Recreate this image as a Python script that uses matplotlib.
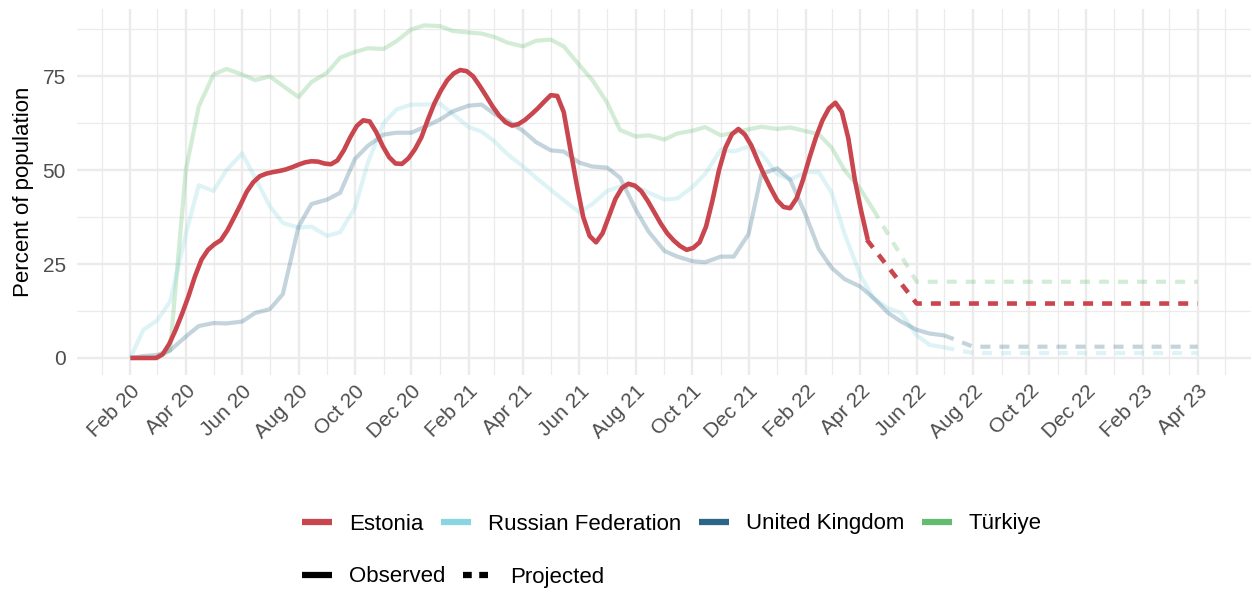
import numpy as np
import pandas as pd
import matplotlib
matplotlib.use('Agg')
import matplotlib.pyplot as plt
import matplotlib.dates as mdates
from matplotlib.lines import Line2D

plt.rcParams['font.family'] = ['Liberation Sans', 'DejaVu Sans']

# Estonia: weekly values from 2020-02-01
estonia = [0, 0, 0, 0, 0, 1.0, 3.7, 7.5, 11.8, 16.5,
           21.8, 26.2, 28.8, 30.3, 31.4, 34, 37.3, 40.7, 44.3, 46.8,
           48.4, 49.1, 49.5, 49.8, 50.2, 50.8, 51.5, 52.1, 52.4, 52.3,
           51.8, 51.6, 52.6, 55.3, 58.8, 61.8, 63.3, 63, 60.2, 56.5,
           53.5, 51.8, 51.7, 53.2, 55.6, 58.8, 63.5, 67.8, 71.2, 74,
           75.8, 76.7, 76.4, 75, 72.5, 69.8, 67, 64.6, 62.8, 61.9,
           62.3, 63.4, 64.9, 66.5, 68.3, 70, 69.8, 65.5, 55.8, 46.3,
           37.6, 32.5, 30.8, 33.2, 37.8, 42.4, 45.3, 46.4, 45.9, 44.4,
           41.8, 38.8, 35.8, 33.2, 31.3, 29.8, 28.8, 29.3, 30.8, 35,
           42, 50, 56, 59.6, 61, 59.5, 56.6, 52.5, 48.7, 45.2,
           42, 40.2, 39.9, 42.5, 47.5, 53.4, 58.8, 63.3, 66.5, 68,
           65.5, 58.5, 47.5, 39, 31.5]
estonia_dates = pd.date_range('2020-02-01', periods=len(estonia), freq='7D')

# other countries: semi-monthly values (1st and 15th)
obs_dates = pd.date_range('2020-02-01', '2022-07-01', freq='SMS')
turkiye = [0, 0, 0, 2, 50, 67, 75.5, 77, 75.5, 74, 75, 72.5, 69.5, 73.5,
           76, 80, 81.5, 82.5, 82.3, 84.4, 87.5, 88.6,
           88.4, 87.1, 86.7, 86.4, 85.5, 84, 83, 84.5, 84.8, 83, 78, 74, 68, 60.7,
           59, 59.3, 58.2, 59.8, 60.5, 61.5, 59.3, 60, 60.9, 61.6,
           61, 61.4, 60.4, 59.6, 56, 50, 45, 39.5]
russia = [0, 7.5, 10, 15, 33, 46, 44.5, 50, 54.5, 48, 40.4, 36, 34.7, 35,
          32.5, 33.5, 40, 52, 62.5, 66.2, 67.5, 67.5,
          67.7, 65, 61.5, 60.3, 57.7, 54.3, 51, 48, 44.8, 42, 38.8, 41, 44.5, 45.7,
          45.7, 44, 42.2, 42.5, 45.5, 49, 55.5, 55, 56.3, 54.5,
          49, 47.5, 49.5, 49.5, 44, 33, 22, 16, 13.2, 12, 6, 3.5, 2.8]
uk = [0, 0.5, 0.8, 2, 5.7, 8.5, 9.3, 9.2, 9.7, 12, 13, 17, 35, 41,
      42.2, 44, 53, 56.5, 59.5, 60, 60, 61.5,
      63.5, 65.7, 67.2, 67.5, 65, 63.2, 60.5, 57.5, 55.3, 55, 52, 51, 50.7, 48,
      39.5, 33.6, 28.5, 27, 25.8, 25.5, 27, 27, 33, 49,
      50.5, 47.5, 38, 29, 24, 21, 19, 16, 12, 9.7, 7.5, 6.5, 6.0]

# projections (start at last observed point)
estonia_proj_dates = pd.to_datetime(['2022-04-08', '2022-06-01', '2023-04-01'])
turkiye_proj_dates = pd.to_datetime(['2022-04-15', '2022-06-01', '2023-04-01'])
other_proj_dates = pd.to_datetime(['2022-07-01', '2022-08-01', '2023-04-01'])
estonia_proj = [31.5, 14.5, 14.5]
turkiye_proj = [39.5, 20.3, 20.3]
russia_proj = [2.8, 1.3, 1.3]
uk_proj = [6.0, 3.0, 3.0]

countries = ['Estonia', 'Russian Federation', 'United Kingdom', 'Türkiye']
colors = ['#C9464F', '#87D6E0', '#2B6687', '#63BC6F']

series = {
    'Türkiye': (obs_dates[:len(turkiye)], turkiye, turkiye_proj_dates, turkiye_proj),
    'Russian Federation': (obs_dates[:len(russia)], russia, other_proj_dates, russia_proj),
    'United Kingdom': (obs_dates[:len(uk)], uk, other_proj_dates, uk_proj),
    'Estonia': (estonia_dates, estonia, estonia_proj_dates, estonia_proj),
}

fig = plt.figure(figsize=(12.52, 5.93), dpi=100)
ax = fig.add_axes([0.0615, 0.3683, 0.9377, 0.617])

for name in ['Türkiye', 'Russian Federation', 'United Kingdom', 'Estonia']:
    odates, obs, pdates, proj = series[name]
    col = colors[countries.index(name)]
    if name == 'Estonia':
        alpha, lw = 1.0, 3.3
    else:
        alpha, lw = 0.28, 3.0
    ax.plot(odates, obs, color=col, alpha=alpha, lw=lw,
            solid_capstyle='butt', solid_joinstyle='round')
    ax.plot(pdates, proj, color=col, alpha=alpha, lw=lw,
            linestyle=(0, (7.2 / lw, 6.5 / lw)), dash_capstyle='butt')

ax.margins(x=0.05, y=0.05)

ax.xaxis.set_major_locator(mdates.MonthLocator(bymonth=[2, 4, 6, 8, 10, 12]))
ax.xaxis.set_minor_locator(mdates.MonthLocator(bymonth=[1, 3, 5, 7, 9, 11]))
ax.xaxis.set_major_formatter(mdates.DateFormatter('%b %y'))
ax.set_yticks([0, 25, 50, 75])
ax.set_yticks([12.5, 37.5, 62.5, 87.5], minor=True)

ax.grid(which='major', color='#EBEBEB', lw=1.7)
ax.grid(which='minor', color='#EBEBEB', lw=0.9)
ax.set_axisbelow(True)
for s in ax.spines.values():
    s.set_visible(False)
ax.tick_params(which='both', length=0)
ax.tick_params(axis='y', labelsize=15, labelcolor='#4D4D4D', pad=8)
ax.tick_params(axis='x', labelsize=15, labelcolor='#4D4D4D', pad=5)
for lab in ax.get_xticklabels():
    lab.set_rotation(45)
    lab.set_ha('right')
    lab.set_va('top')
    lab.set_rotation_mode('anchor')

ax.set_ylabel('Percent of population', fontsize=16, labelpad=6)

# legends
h1 = [Line2D([], [], color=c, lw=4.5, solid_capstyle='butt') for c in colors]
fig.legend(h1, countries, loc='center left', bbox_to_anchor=(302 / 1252, 1 - 524 / 593),
           ncol=4, frameon=False, fontsize=16, handlelength=1.36, handletextpad=0.75,
           columnspacing=0.8, borderpad=0, borderaxespad=0)
h2 = [Line2D([], [], color='black', lw=4.5, solid_capstyle='butt'),
      Line2D([], [], color='black', lw=4.5, linestyle=(0, (1.4, 1.2)), dash_capstyle='butt')]
fig.legend(h2, ['Observed', 'Projected'], loc='center left',
           bbox_to_anchor=(302 / 1252, 1 - 577 / 593), ncol=2, frameon=False,
           fontsize=16, handlelength=1.36, handletextpad=0.75, columnspacing=0.8,
           borderpad=0, borderaxespad=0)

fig.savefig('out.png', dpi=100)
